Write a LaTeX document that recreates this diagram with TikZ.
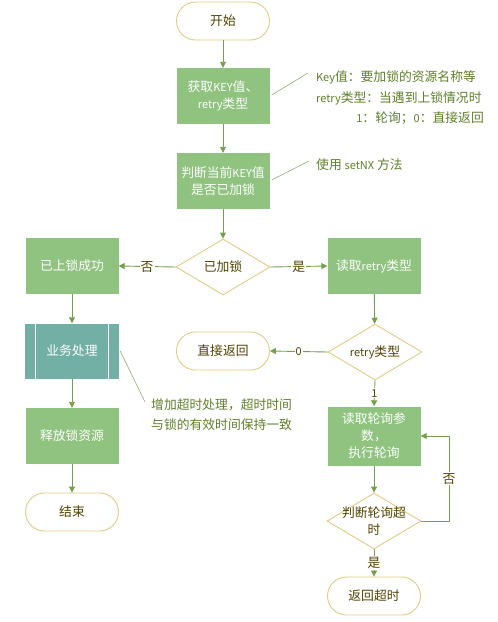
\documentclass[tikz,border=0pt]{standalone}
\usepackage{fontspec}
\setmainfont{Noto Sans CJK SC}
\usetikzlibrary{shapes.geometric,arrows.meta}
\definecolor{boxgreen}{HTML}{8FC37F}
\definecolor{teal2}{HTML}{72AFA5}
\definecolor{gold}{HTML}{E3CB82}
\definecolor{arrowc}{HTML}{74A04C}
\definecolor{annoc}{HTML}{5E7F2B}
\definecolor{annol}{HTML}{8FAE6E}
\definecolor{darktxt}{HTML}{4F4300}
\newcommand{\lat}[1]{{\fontsize{11}{17}\selectfont #1}}
\begin{document}
\begin{tikzpicture}[x=1pt,y=-1pt,
  txt/.style={font=\fontsize{12.8}{17}\selectfont},
  proc/.style={txt,rectangle,fill=boxgreen,text=white,minimum width=93pt,minimum height=56pt,inner sep=1pt,align=center},
  sub/.style={txt,rectangle,fill=teal2,text=white,minimum width=94pt,minimum height=55pt,align=center},
  term/.style={txt,rectangle,rounded corners=19pt,draw=gold,line width=0.9pt,fill=white,text=darktxt,minimum width=93pt,minimum height=38pt,align=center},
  dec/.style={diamond,draw=gold,line width=0.9pt,fill=white,minimum width=94pt,minimum height=56pt,inner sep=0pt},
  dectext/.style={txt,text=darktxt,align=center},
  arr/.style={draw=arrowc,line width=0.9pt,-{Triangle[length=6pt,width=6pt]}},
  elab/.style={txt,text=darktxt,fill=white,inner sep=1pt},
  anno/.style={font=\fontsize{12.8}{17}\selectfont,text=annoc,inner sep=0pt},
  annoline/.style={draw=annol,line width=0.6pt}
]
\useasboundingbox (0,0) rectangle (498,622);

% main column
\node[term] (start) at (223,21) {开始};
\node[proc] (getkey) at (223,96) {获取\lat{KEY}值、\\\lat{retry}类型};
\node[proc] (judge) at (223,181) {判断当前\lat{KEY}值\\是否已加锁};
\node[dec] (locked) at (223,267) {};
\node[dectext] (lockedt) at (locked.center) {已加锁};

% left column
\node[proc] (success) at (72,266) {已上锁成功};
\node[sub] (biz) at (72,351) {业务处理};
\draw[white,line width=0.9pt] ([xshift=11pt]biz.north west) -- ([xshift=11pt]biz.south west);
\draw[white,line width=0.9pt] ([xshift=-11pt]biz.north east) -- ([xshift=-11pt]biz.south east);
\node[proc] (release) at (72,436) {释放锁资源};
\node[term] (finish) at (72,512) {结束};

% right column
\node[proc] (readretry) at (374,266) {读取\lat{retry}类型};
\node[dec] (retry) at (375,352) {};
\node[dectext] (retryt) at (retry.center) {\lat{retry}类型};
\node[term] (direct) at (223,351) {直接返回};
\node[proc,minimum height=59pt] (poll) at (374,436) {读取轮询参\\数，\\执行轮询};
\node[dec] (timeout) at (374,521) {};
\node[dectext] (timeoutt) at (timeout.center) {判断轮询超\\时};
\node[term] (rettime) at (374,596) {返回超时};

% connectors
\draw[arr] (start) -- (getkey);
\draw[arr] (getkey) -- (judge);
\draw[arr] (judge) -- (locked);
\draw[arr] (locked.west) -- node[elab] (nolabel) {否} (success.east);
\draw[arr] (locked.east) -- node[elab] (yeslabel) {是} (readretry.west);
\draw[arr] (success) -- (biz);
\draw[arr] (biz) -- (release);
\draw[arr] (release) -- (finish);
\draw[arr] (readretry) -- (retry);
\draw[arr] (retry.west) -- node[elab] (zerolabel) {\lat{0}} (direct.east);
\draw[arr] (retry.south) -- node[elab] (onelabel) {\lat{1}} (poll.north);
\draw[arr] (poll) -- (timeout);
\draw[arr] (timeout.south) -- node[elab] (shilabel) {是} (rettime.north);
\coordinate (loopc) at (449,521);
\draw[arr] (timeout.east) -- (loopc) -- node[elab] (foulabel) {否} (loopc |- poll.east) -- (poll.east);

% annotations
\coordinate (a1) at (308,73);
\draw[annoline] ([xshift=2pt,yshift=1pt]getkey.east) -- (a1);
\node[anno,anchor=west] (an1a) at (316,77) {\lat{Key}值：要加锁的资源名称等};
\node[anno,anchor=west] (an1b) at (316,98) {\lat{retry}类型：当遇到上锁情况时};
\node[anno,anchor=east] (an1c) at (484,118) {\lat{1}：轮询；\lat{0}：直接返回};

\coordinate (a2) at (309,161);
\draw[annoline] ([xshift=2pt,yshift=1pt]judge.east) -- (a2);
\node[anno,anchor=west] (an2) at (316,165) {使用 \lat{setNX} 方法};

\coordinate (a3) at (145,402);
\draw[annoline] ([xshift=1pt]biz.east) -- (a3);
\node[anno,anchor=west] (an3a) at (151,405) {增加超时处理，超时时间};
\node[anno,anchor=west] (an3b) at (151,425) {与锁的有效时间保持一致};
\end{tikzpicture}
\end{document}
